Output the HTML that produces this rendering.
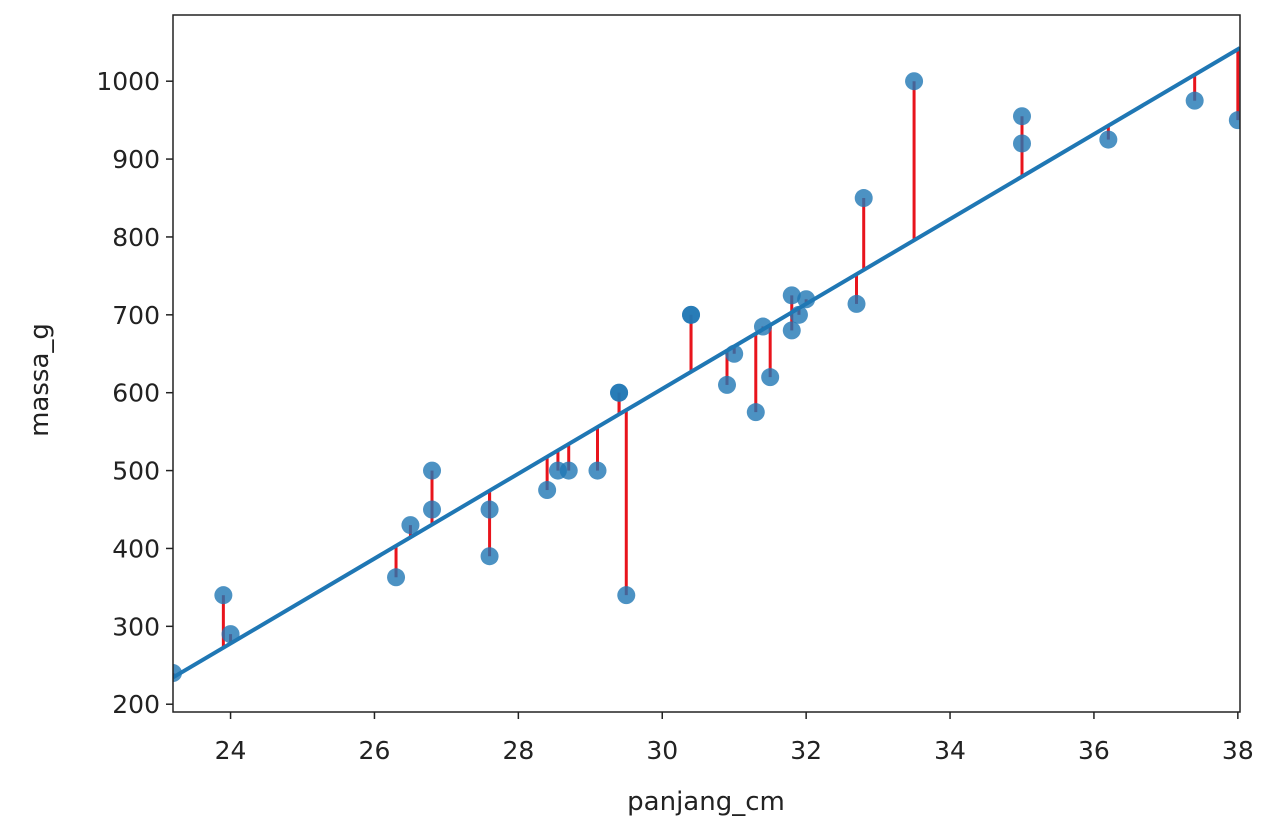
<!DOCTYPE html>
<html><head><meta charset="utf-8"><style>
html,body{margin:0;padding:0;background:#fff}
text{font-family:"DejaVu Sans","Liberation Sans",sans-serif;fill:#222}
</style></head><body>
<svg id="chart" width="1280" height="832" xmlns="http://www.w3.org/2000/svg"></svg>
<script>
const xs=[23.2,23.9,24.0,26.3,26.5,26.8,26.8,27.6,27.6,28.4,28.55,28.7,29.1,29.4,29.4,29.5,30.4,30.4,30.9,31.0,31.3,31.4,31.5,31.8,31.8,31.9,32.0,32.7,32.8,33.5,35.0,35.0,36.2,37.4,38.0];
const ys=[240,340,290,363,430,450,500,450,390,475,500,500,500,600,600,340,700,700,610,650,575,685,620,680,725,700,720,714,850,1000,955,920,925,975,950];
const xTicks=[24,26,28,30,32,34,36,38];
const yTicks=[200,300,400,500,600,700,800,900,1000];
const slope=54.5, intercept=-1030;
const L=173,R=1240,T=15,B=712,xmin=23.2,xmax=38.03,ymin=190,ymax=1085;
const X=v=>L+(v-xmin)/(xmax-xmin)*(R-L);
const Y=v=>B-(v-ymin)/(ymax-ymin)*(B-T);
const svg=document.getElementById('chart');
const NS='http://www.w3.org/2000/svg';
function mk(t,a,p){const e=document.createElementNS(NS,t);for(const k in a)e.setAttribute(k,a[k]);(p||svg).appendChild(e);return e;}
const defs=mk('clipPath',{id:'clip'});mk('rect',{x:L,y:T,width:R-L,height:B-T},defs);
const g=mk('g',{'clip-path':'url(#clip)'});


xs.forEach((x,i)=>{const l=mk('line',{x1:X(x),x2:X(x),y1:Y(ys[i]),y2:Y(slope*x+intercept),stroke:'#e8141c','stroke-width':3},g);

});
xs.forEach((x,i)=>{const c=mk('circle',{cx:X(x),cy:Y(ys[i]),r:9,fill:'#1f77b4','fill-opacity':0.8},g);

});
const rl=mk('line',{x1:X(xmin),y1:Y(slope*xmin+intercept),x2:X(xmax),y2:Y(slope*xmax+intercept),stroke:'#1f77b4','stroke-width':4},g);


const fr=mk('rect',{x:L,y:T,width:R-L,height:B-T,fill:'none',stroke:'#222','stroke-width':1.5});


xTicks.forEach(t=>{mk('line',{x1:X(t),x2:X(t),y1:B,y2:B+7,stroke:'#222','stroke-width':1.5});
const tx=mk('text',{x:X(t),y:B+47,'text-anchor':'middle','font-size':25});tx.textContent=t;

});
yTicks.forEach(t=>{mk('line',{x1:L-7,x2:L,y1:Y(t),y2:Y(t),stroke:'#222','stroke-width':1.5});
const tx=mk('text',{x:L-13,y:Y(t)+9,'text-anchor':'end','font-size':25});tx.textContent=t;

});
const xt=mk('text',{x:706,y:810,'text-anchor':'middle','font-size':26});xt.textContent='panjang_cm';


const yt=mk('text',{x:48,y:380,'text-anchor':'middle','font-size':26,transform:'rotate(-90 48 380)'});yt.textContent='massa_g';


</script>
</body></html>
